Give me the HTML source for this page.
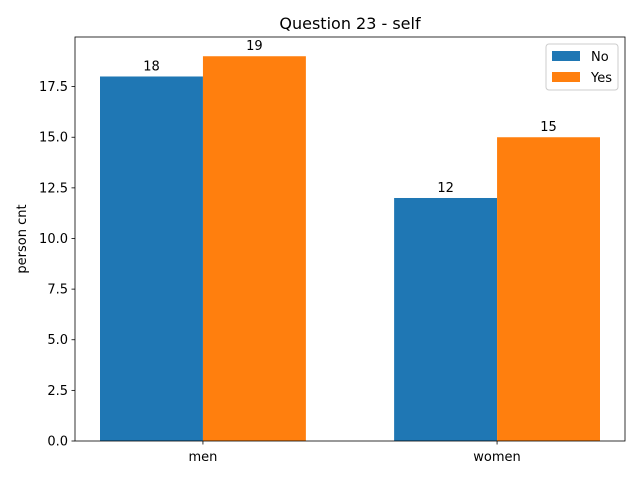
<!DOCTYPE html>
<html><head><meta charset="utf-8"><style>
body{margin:0;background:#fff;font-family:"Liberation Sans","DejaVu Sans",sans-serif;}
svg text{font-family:"DejaVu Sans","Liberation Sans",sans-serif;}
</style></head><body>
<svg id="chart" width="640" height="480" viewBox="0 0 640 480">
<rect width="640" height="480" fill="#fff"/>
<text x="350" y="29" font-size="16" text-anchor="middle">Question 23 - self</text>
<g id="plot"></g>
</svg>
<script>
const categories = ["men", "women"];
const seriesNames = ["No", "Yes"];
const noValues = [18, 12];
const yesValues = [19, 15];
const yTicks = [0, 2.5, 5, 7.5, 10, 12.5, 15, 17.5];
const yTickLabels = ["0.0", "2.5", "5.0", "7.5", "10.0", "12.5", "15.0", "17.5"];

const L=75,R=625,T=37,B=441;
const colors=["#1f77b4","#ff7f0e"];
const series=[noValues,yesValues];
const bw=0.35;
const xmin=-bw-0.05*(categories.length-1+2*bw), xmax=categories.length-1+bw+0.05*(categories.length-1+2*bw);
const ymax=Math.max(...noValues,...yesValues)*1.05;
const sx=v=>L+(v-xmin)/(xmax-xmin)*(R-L);
const sy=v=>B-v/ymax*(B-T);
const NS="http://www.w3.org/2000/svg";
const g=document.getElementById("plot");
function el(tag,attrs,txt){const e=document.createElementNS(NS,tag);for(const k in attrs)e.setAttribute(k,attrs[k]);if(txt!==undefined)e.textContent=txt;g.appendChild(e);return e;}

series.forEach((vals,si)=>{
  vals.forEach((v,i)=>{
    const x0=i+(si===0?-bw:0);
    const r=el("rect",{x:sx(x0),y:sy(v),width:sx(x0+bw)-sx(x0),height:sy(0)-sy(v),fill:colors[si]});
    
    
    const t=el("text",{x:(sx(x0)+sx(x0+bw))/2,y:sy(v)-6,"font-size":"13","text-anchor":"middle"},String(v));
    
    
  });
});
yTicks.forEach((v,i)=>{
  const y=sy(v);
  el("line",{x1:L-3.5,x2:L,y1:y,y2:y,stroke:"#000","stroke-width":"0.8"});
  const t=el("text",{x:L-7,y:y+4.5,"font-size":"13","text-anchor":"end"},yTickLabels[i]);
  
  
});
categories.forEach((c,i)=>{
  const x=sx(i);
  el("line",{x1:x,x2:x,y1:B,y2:B+3.5,stroke:"#000","stroke-width":"0.8"});
  const t=el("text",{x:x,y:B+20,"font-size":"13","text-anchor":"middle"},c);
  
  
});
const frame=el("rect",{x:L,y:T,width:R-L,height:B-T,fill:"none",stroke:"#000","stroke-width":"0.8"});


const yl=el("text",{x:0,y:0,"font-size":"13","text-anchor":"middle",transform:"translate(26,239) rotate(-90)"},"person cnt");


const lg=el("rect",{x:546,y:44,width:72,height:46,fill:"#fff",stroke:"#ccc","stroke-width":"1",rx:"3"});


seriesNames.forEach((n,i)=>{
  const y=51+i*21;
  el("rect",{x:552,y:y,width:28,height:10,fill:colors[i]});
  const t=el("text",{x:591,y:y+10,"font-size":"13"},n);
  
  
});
</script>
</body></html>
